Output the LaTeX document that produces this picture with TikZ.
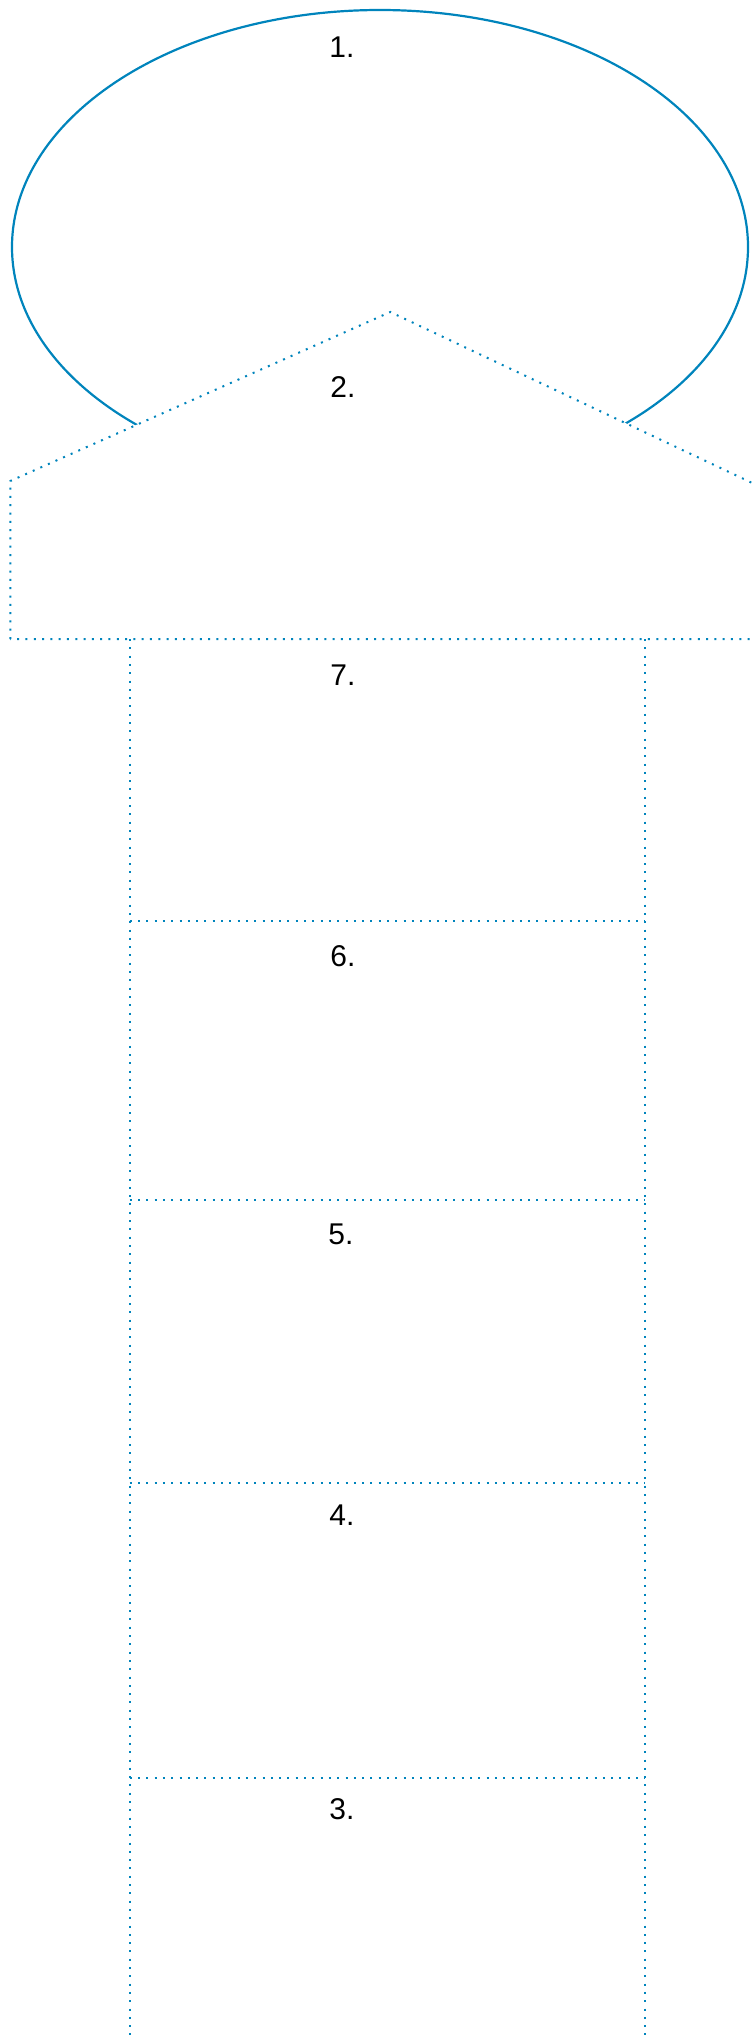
\documentclass[tikz,border=0pt]{standalone}
\usepackage{fontspec}
\setmainfont{Liberation Sans}
\usetikzlibrary{shapes.geometric}
\definecolor{lineblue}{RGB}{0,132,188}
\begin{document}
\begin{tikzpicture}[x=1pt,y=-1pt,
  dotline/.style={draw=lineblue,line width=2pt,dash pattern=on 2pt off 6.3pt},
  lbl/.style={font=\fontsize{30}{36}\selectfont,inner sep=0pt,text=black}]
\useasboundingbox (0,0) rectangle (755,2040);
\clip (0,0) rectangle (755,2040);
% head ellipse
\node[ellipse,draw=lineblue,line width=2.2pt,minimum width=736pt,minimum height=474pt,inner sep=0pt] (head) at (380,247) {};
% house (pentagon) covering lower part of ellipse
\coordinate (hl) at (10.3,481);
\coordinate (ha) at (390.3,312);
\coordinate (hr) at (765,489);
\coordinate (hbr) at (765,639);
\coordinate (hbl) at (10.3,639);
\fill[white] (hl) -- (ha) -- (hr) -- (hbr) -- (hbl) -- cycle;
\draw[dotline] (hbl) -- (hl) -- (ha) -- (hr) -- (hbr) -- (hbl);
% ladder rails
\coordinate (lt) at (129.7,639);
\coordinate (lb) at (129.7,2045);
\coordinate (rt) at (645.3,639);
\coordinate (rb) at (645.3,2045);
\draw[dotline] (lt) -- (lb);
\draw[dotline] (rt) -- (rb);
% rungs
\foreach \n/\y in {a/920.7,b/1200,c/1482.6,d/1778}{
  \coordinate (rl\n) at (129.7,\y);
  \coordinate (rr\n) at (645.3,\y);
  \draw[dotline] (rl\n) -- (rr\n);
}
% labels
\node[lbl] (t1) at (342,47) {1.};
\node[lbl] (t2) at (343,387) {2.};
\node[lbl] (t7) at (343,675) {7.};
\node[lbl] (t6) at (343,956) {6.};
\node[lbl] (t5) at (341,1234) {5.};
\node[lbl] (t4) at (342,1515) {4.};
\node[lbl] (t3) at (342,1809) {3.};
\end{tikzpicture}
\end{document}
